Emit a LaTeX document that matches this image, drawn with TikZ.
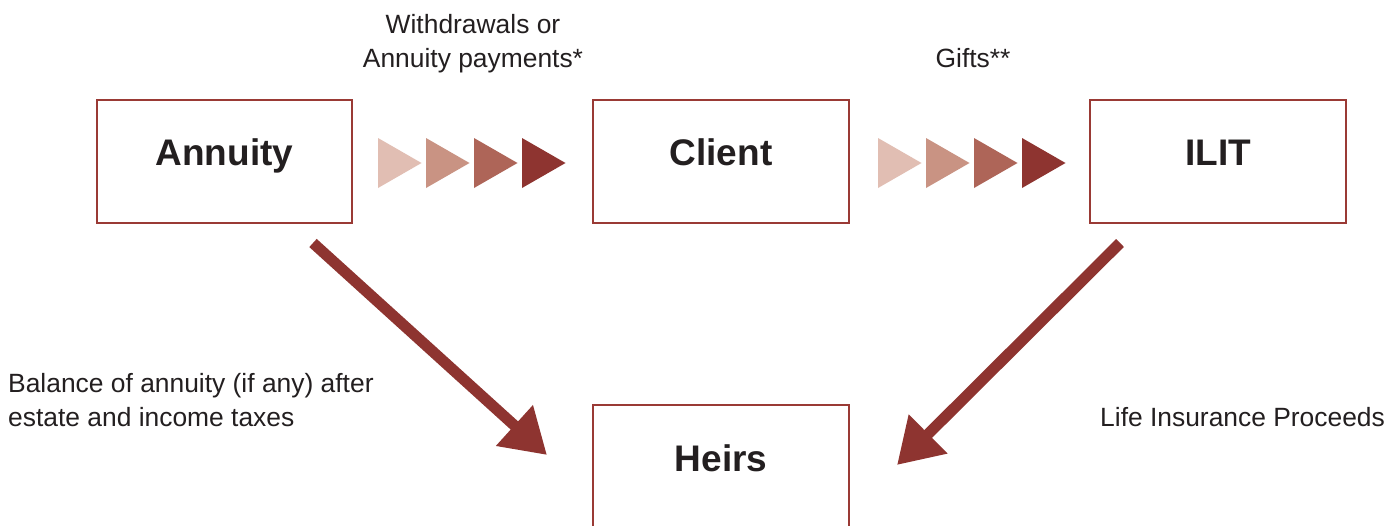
\documentclass[tikz,border=0pt]{standalone}
\usepackage{fontspec}
\setmainfont{Liberation Sans}
\usetikzlibrary{arrows.meta}
\definecolor{boxred}{HTML}{9A3A35}
\definecolor{arrred}{HTML}{8E3430}
\definecolor{txt}{HTML}{231F20}
\definecolor{ch1}{HTML}{E1BEB3}
\definecolor{ch2}{HTML}{C99383}
\definecolor{ch3}{HTML}{AE6558}
\definecolor{ch4}{HTML}{8E3430}
\tikzset{
  boxnode/.style={draw=boxred, line width=2pt, fill=white, inner sep=0pt},
  titletxt/.style={text=txt, font=\fontsize{37}{40}\selectfont\bfseries, anchor=base, inner sep=0pt},
  lbl/.style={text=txt, font=\fontsize{26.4}{34}\selectfont, inner sep=0pt},
  bigarrow/.style={draw=arrred, line width=11pt, -{Triangle[length=44pt,width=52pt]}},
}
\newcommand{\chev}[2]{\fill[#2] (#1,138) -- (#1+43.5,163) -- (#1,188) -- cycle;}
\begin{document}
\begin{tikzpicture}[x=1pt,y=-1pt]
\clip (0,0) rectangle (1399,525);
\fill[white] (0,0) rectangle (1399,525);
% boxes
\node[boxnode, minimum width=255pt, minimum height=123pt] (annuity) at (224.5,161.5) {};
\node[boxnode, minimum width=256pt, minimum height=123pt] (client) at (721,161.5) {};
\node[boxnode, minimum width=256pt, minimum height=123pt] (ilit) at (1218,161.5) {};
\node[boxnode, minimum width=256pt, minimum height=160pt] (heirs) at (721,485) {};
% box titles
\node[titletxt] (annuityt) at (224.5,165) {Annuity};
\node[titletxt] (clientt) at (721,165) {Client};
\node[titletxt] (ilitt) at (1218,165) {ILIT};
\node[titletxt] (heirst) at (721,471) {Heirs};
% chevrons
\chev{378}{ch1}\chev{426}{ch2}\chev{474}{ch3}\chev{522}{ch4}
\chev{878}{ch1}\chev{926}{ch2}\chev{974}{ch3}\chev{1022}{ch4}
% labels
\node[lbl, align=center, anchor=base] (wd) at (473,67) {Withdrawals or\\Annuity payments*};
\node[lbl, anchor=base] (gifts) at (973,67) {Gifts**};
\node[lbl, align=left, anchor=base west] (bal) at (8,426) {Balance of annuity (if any) after\\estate and income taxes};
\node[lbl, anchor=base west] (life) at (1100,426) {Life Insurance Proceeds};
% diagonal arrows
\coordinate (s1) at (313,243);
\coordinate (e1) at (547,455);
\coordinate (s2) at (1120,243);
\coordinate (e2) at (897,465);
\draw[bigarrow] (s1) -- (e1);
\draw[bigarrow] (s2) -- (e2);
\end{tikzpicture}
\end{document}
